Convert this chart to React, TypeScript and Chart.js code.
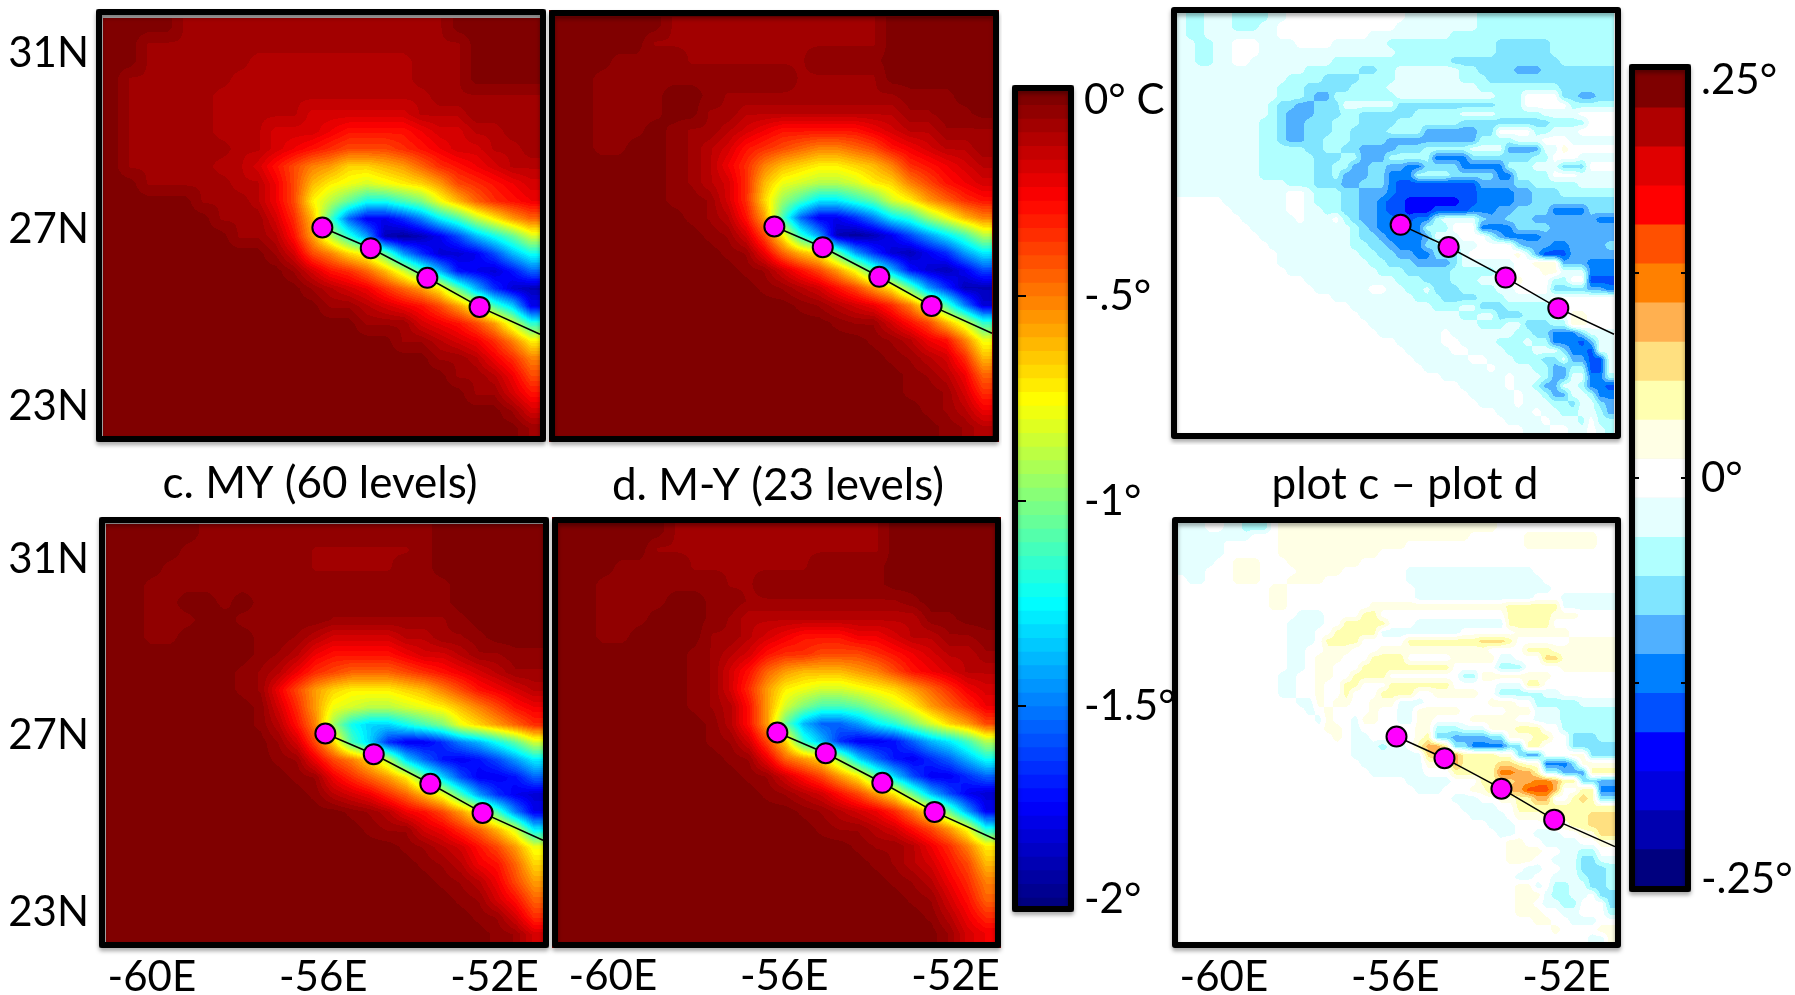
import React, { useEffect, useRef } from "react";
import { Chart, registerables } from "chart.js";

Chart.register(...registerables);

// ---------- axis labels ----------
const LON_TICKS = [-60, -56, -52];
const LAT_TICKS = [31, 27, 23];
const LON_RANGE = [-61.07, -50.87];
const LAT_RANGE = [22.3, 31.8];

// ---------- storm track (lon / lat of the four dots and the exit from the frame) ----------
const TRACK_LON = [-55.95, -54.82, -53.5, -52.28, -50.87];
const TRACK_LAT = [27.05, 26.58, 25.91, 25.25, 24.63];
const TRACK_LON_E = [-55.85, -54.73, -53.4, -52.17, -50.87];
const TRACK_LAT_E = [27.02, 26.52, 25.83, 25.14, 24.55];
const TRACK_LON_F = [-55.97, -54.85, -53.52, -52.29, -50.87];
const TRACK_LAT_F = [26.97, 26.48, 25.79, 25.09, 24.48];

// ---------- cooling, one char per cell: base-36 level, degrees C = -level/18, A = half a level.
// Rows run north to south; short rows are padded on the west with background.
const GRID_A = [
  "000011111111111111100000",
  "001111111111111111110000",
  "001111112222222221110000",
  "011111122222222221110000",
  "011111222222222222111111",
  "011111222223333332221111",
  "011111222333455554332211",
  "011111122345677765433221",
  "011111223579accba8654322",
  "00111112247bdefedca76543",
  "00000111247dgjmmkieb8654",
  "00000011136bkswwurnkgda8",
  "00000001125aglqyzywtpmjf",
  "0000000001379cejquxxwtpm",
  "13568bfkpvwxvs",
  "123468adjpuxy",
  "1123457aekow",
  "1113457afl",
  "1123469d",
  "112469",
  "11247",
  "1135",
  "13",
  "1",
];
const GRID_B = [
  "000000111111111111000000",
  "000001111111111111000000",
  "000AAAA1111111AAAA000000",
  "00AAAAAAAAAAA11111000000",
  "00AAAA00A1111111111AAA00",
  "00AAAA001122222222211AA0",
  "00AAA0A11234555554322111",
  "00AA00A12356789987543221",
  "000000A12469bcddcb965432",
  "000000A1236befggfdc97543",
  "000000AA136chknnljfda865",
  "0000000A125akswwurnlheb9",
  "00000000A137dlqyzywtqnkg",
  "A148bdjquxywuqn",
  "A1357aekpvxywt",
  "A12357adjquyy",
  "A123469ekrx",
  "A11357bfl",
  "A12459e",
  "A1236b",
  "A1248",
  "AA136",
  "A124",
  "A12",
];
const GRID_C = [
  "00000AAAAAAAAAAAAA000000",
  "0000AAAAAAA111111A000000",
  "000AAAAAAAA11111AA000000",
  "00AAAAAAAAAAAAAAAAA00000",
  "00AA00A0AAAAAAAAAAA00000",
  "00AAA00AAAAA1111111A0000",
  "00AA0000AA1233332211A000",
  "00000000A1245555433211AA",
  "0000000A1246788876543211",
  "0000000A147acdddcb975432",
  "00000000A36aefggfedb9754",
  "00000000A259hmoomkieca86",
  "000000000137ckouwwurpmjf",
  "000000000A1479cgosvwvtqn",
  "A1468adjotwwvs",
  "A23468bekquwx",
  "A12457aekrw",
  "A113468bfn",
  "A12357ae",
  "A12458c",
  "A1247a",
  "A1358",
  "A136",
  "A13",
];
const GRID_D = [
  "000000111111111111000000",
  "000001111111111111000000",
  "000AAAA1111111AAAA000000",
  "00AAAAAAA11AAAAAAA000000",
  "00AAAA00AA111111111A0000",
  "00AAA000A12222222222AA00",
  "00AA0000112345554432211A",
  "0000000A1235667776543221",
  "0000000A1358abbba9754322",
  "0000000A136adeffedca8643",
  "0000000A125afikkjhfda864",
  "00000000A25ajpssqnlifca7",
  "00000000A137clpuwwvspnkg",
  "000000000A148achosvwuspm",
  "A1357adjotwwus",
  "A12357adjptwx",
  "A123469djqw",
  "A112357aem",
  "A112469d",
  "A12357b",
  "A12469",
  "A1358",
  "A246",
  "134",
];

// ---------- difference in bands, north to south.
// Each token is a band symbol followed by the column (of 48) where that run ends.
// Symbol '.' = 0, 1..7 warm bands, a..h cold bands; one band = .5/21 degrees.
const RUNS_E = [
  "a1 b3 a6 b10 a12 .25 a33 b48",
  "a1 b3 a6 b9 a11 .24 a33 b48",
  "a1 b3 a11 .21 a30 b48",
  "a2 b4 a6 .9 a13 .17 a23 b35 c41 b48",
  "a2 b4 a6 .9 a24 b35 c41 b48",
  "a2 b4 a6 .8 a17 b30 c42 b48",
  "a14 b20 c22 b24 a31 b33 c37 d40 c48",
  "a12 b16 c20 b24 a31 b34 c48",
  "a11 b14 c19 b23 a33 b42 c48",
  "a11 b14 c15 d17 b24 a35 b38 .42 c44 d46 c48",
  "a10 b11 c13 d15 c18 a24 c35 b38 .43 b48",
  "a10 b11 c12 d15 c18 b20 c26 b31 a35 b40 a44 .48",
  "a9 b11 c12 d14 c17 b20 c24 b31 c41 b45 .48",
  "a9 b11 c12 d14 c17 b19 c23 b27 d33 c35 .39 b41 a44 .48",
  "a9 b11 c12 d14 c16 b19 c23 d33 b37 a40 .43 a48",
  "a9 b14 c16 b18 c20 d24 c27 b32 a36 d40 a42 143 .48",
  "a9 b15 c18 b20 d23 b28 e32 c39 b41 .44 a48",
  "a9 b15 c17 b19 d21 c23 d25 e27 c31 e36 b39 a42 c45 .48",
  "a9 b15 c17 b18 d21 c23 e26 b30 c35 e37 b41 .44 a48",
  "a12 b15 c18 d20 c23 e24 f33 d37 c39 b44 a48",
  "a12 .14 a15 b18 c20 d23 e24 f33 e37 d39 c42 b48",
  ".5 a12 .14 a15 b18 c20 d22 e23 f25 g31 f33 e37 d39 c48",
  ".6 a12 .14 a16 b18 c20 d22 e23 f25 g28 f32 e35 d37 c41 e45 c48",
  ".7 a13 .14 a17 .18 b19 c20 d22 e24 f26 e28 b29 a33 c34 d36 c39 d46 e48",
  ".8 a19 b20 c21 d22 e27 b30 .33 e37 c41 d48",
  ".9 a19 b20 c22 d23 e27 d28 a31 .34 b35 d36 e40 d48",
  ".10 a19 b21 c23 d24 e27 c29 b31 a33 .37 c38 d41 e43 d47 c48",
  ".11 a20 b22 c24 d26 e28 c31 a32 .37 138 a39 d40 f43 d48",
  ".11 a21 b23 c26 d30 c31 a37 .39 142 d45 e48",
  ".12 a22 b25 c30 b35 a37 .40 142 a45 e48",
  ".14 a24 b27 c30 b33 a37 138 .41 b43 .45 f48",
  ".15 a21 .23 a25 b27 a28 c31 b35 a37 .41 c45 d47 e48",
  ".17 a26 b29 c33 b36 a41 .48",
  ".19 a28 b31 a33 c36 b41 a43 .48",
  ".20 a31 b33 a35 c38 b41 a43 145 .48",
  ".21 a33 b36 a38 c41 b43 145 .48",
  ".22 a29 .30 a37 b39 c41 e44 c45 a48",
  ".24 a29 .31 a35 b38 a39 b41 e44 f45 d46 a48",
  ".25 a30 .32 a36 b39 a42 c43 e45 f46 a48",
  ".26 a32 .34 a37 b40 c42 a43 d45 f47 a48",
  ".27 a34 .35 a39 b41 d43 b45 f47 a48",
  ".29 a36 .37 a40 b41 d43 a45 e47 b48",
  ".31 a36 .37 a39 b40 d42 a44 b45 e47 f48",
  ".32 a37 .38 a40 b41 d43 a45 b46 e48",
  ".33 a37 .38 a41 b43 c44 a46 c47 d48",
  ".35 a39 .40 a42 b44 a46 b47 d48",
  ".36 a40 .41 a44 b45 .46 b48",
  ".38 a41 .43 a45 .46 a47 b48",
];
const RUNS_F = [
  "a3 .5 a7 b10 .11 135 .48",
  "a5 a8 .11 132 .38 146 .48",
  "a5 .11 125 .38 146 .48",
  "a5 .11 122 .48",
  "a4 .6 19 .12 120 .48",
  "a3 .6 19 .13 118 .25 a39 .48",
  ".1 a3 .6 19 .12 116 .25 a40 .48",
  ".10 112 .26 a41 .48",
  ".10 112 .26 a39 .42 a48",
  ".10 112 .21 136 242 a48",
  ".13 a16 .20 222 .36 241 144 .48",
  ".12 a16 .18 223 .26 a36 241 .48",
  ".12 a15 .17 222 a31 .37 143 .48",
  ".12 a15 .16 220 .25 233 336 237 .43 148",
  ".12 a14 .16 119 .22 134 .38 241 148",
  ".12 a14 .15 118 .21 225 .30 135 a37 .40 342 148",
  ".12 a14 .15 117 .20 230 .35 b38 .42 148",
  ".11 a13 .15 117 .19 223 .31 b33 141 .48",
  ".11 a13 .15 116 .18 220 .23 230 .35 a38 240 .48",
  ".11 a13 .15 116 .18 219 .22 226 .28 133 .35 b40 a42 .48",
  ".13 a15 116 .17 119 .21 124 a27 .34 137 .39 b44 a48",
  ".14 a15 .16 117 .21 122 .24 a26 131 .36 139 a42 b48",
  ".15 a16 117 .19 a20 122 .24 a26 128 .32 137 .39 a42 b48",
  ".16 118 .19 a20 .26 128 b31 a34 137 240 .42 b48",
  ".17 118 .19 a21 .26 127 228 c30 d34 c36 139 241 .43 c46 b48",
  ".19 a22 b23 a25 .26 227 429 230 c32 e36 c38 240 .43 c48",
  ".19 a27 328 431 235 137 c38 d40 .43 145 c48",
  ".20 a27 130 431 235 337 238 140 e43 c44 148",
  ".21 a27 .30 235 537 439 240 b42 d45 248",
  ".25 a30 .33 235 337 439 541 442 244 c46 d48",
  ".26 a29 .32 134 336 438 641 442 .44 246 e48",
  ".30 a33 .35 137 239 441 .43 244 345 246 c48",
  ".31 a35 .37 248",
  ".32 a36 .37 140 245 348",
  ".34 a37 .41 143 245 348",
  ".35 a37 .39 a42 .44 146 348",
  ".36 138 .40 a44 .46 148",
  ".36 140 .42 a44 b46 .48",
  ".36 139 .41 a44 c46 a48",
  ".38 a40 .42 a44 c47 b48",
  ".37 a39 .41 a44 b45 c47 b48",
  ".37 139 a40 .41 b43 a45 c47 b48",
  ".37 140 a41 b43 a45 .46 c48",
  ".37 139 .40 a42 b44 .47 c48",
  ".37 140 .42 a44 .47 b48",
  ".39 141 .43 a46 .48",
  ".41 142 .46 148",
  ".45 a47 148",
];

// ---------- colour bars ----------
const COOL_LABELS = ["0° C", "-.5°", "-1°", "-1.5°", "-2°"];
const COOL_LABEL_AT = [-0.024, -0.5, -1, -1.5, -1.973];
const COOL_MARKS = [-0.5, -1, -1.5];
const COOL_RANGE = [-2, 0];
const COOL_STEPS = 60;
const DIFF_LABELS = [".25°", "0°", "-.25°"];
const DIFF_LABEL_AT = [0.2427, 0, -0.245];
const DIFF_MARKS = [0.125, 0, -0.125];
const DIFF_RANGE = [-0.25, 0.25];
const DIFF_COLORS = [
  "#7f0000", "#b00000", "#e00000", "#ff0000", "#ff5000", "#ff8000", "#ffb050",
  "#ffe080", "#ffffb0", "#ffffe5", "#ffffff", "#e5ffff", "#b0ffff", "#80e5ff",
  "#50b0ff", "#0080ff", "#0050ff", "#0000ff", "#0000e0", "#0000b0", "#00007f",
];

const TITLE_C = "c. MY (60 levels)";
const TITLE_D = "d. M-Y (23 levels)";
const TITLE_F = "plot c – plot d";

// ---------- drawing helpers ----------
const FONT_FAMILY = "Lato, 'Open Sans', sans-serif";
const FONT = { family: FONT_FAMILY, size: 42, weight: "400" as const, lineHeight: 1 };
const TITLE_FONT = { family: FONT_FAMILY, size: 44, weight: "400" as const, lineHeight: 1 };

const clamp01 = (v: number) => Math.max(0, Math.min(1, v));
function jet(x: number): [number, number, number] {
  return [
    255 * clamp01(1.5 - Math.abs(4 * x - 3)),
    255 * clamp01(1.5 - Math.abs(4 * x - 2)),
    255 * clamp01(1.5 - Math.abs(4 * x - 1)),
  ];
}
function hexRgb(h: string): [number, number, number] {
  return [parseInt(h.slice(1, 3), 16), parseInt(h.slice(3, 5), 16), parseInt(h.slice(5, 7), 16)];
}
const rgbStr = (c: number[]) => `rgb(${c.map(Math.round).join(",")})`;
const DIFF_RGB = DIFF_COLORS.map(hexRgb);

function decodeCool(rows: string[]): number[][] {
  return rows.map((r) =>
    r.padStart(24, "0").split("").map((c) => (c === "A" ? 0.5 : parseInt(c, 36)))
  );
}
function bandOf(c: string): number {
  if (c === ".") return 0;
  if (c >= "1" && c <= "9") return Number(c);
  return -(c.charCodeAt(0) - 96);
}
function decodeRuns(rows: string[]): number[][] {
  return rows.map((r) => {
    const out: number[] = new Array(48).fill(0);
    let from = 0;
    for (const tok of r.split(" ")) {
      const end = Number(tok.slice(1));
      for (let i = from; i < end && i < 48; i++) out[i] = bandOf(tok[0]);
      from = Math.max(from, end);
    }
    return out;
  });
}
function coolRgb(level: number): [number, number, number] {
  const q = Math.round((clamp01(level / 36) * (COOL_STEPS - 1))) / (COOL_STEPS - 1);
  return jet(1 - q);
}
function diffRgb(band: number): [number, number, number] {
  const i = 10 - Math.round(band);
  return DIFF_RGB[Math.max(0, Math.min(20, i))];
}

function sample(g: number[][], fx: number, fy: number): number {
  const rows = g.length;
  const cols = g[0].length;
  const x = Math.max(0, Math.min(cols - 1.001, fx * cols - 0.5));
  const y = Math.max(0, Math.min(rows - 1.001, fy * rows - 0.5));
  const i = Math.floor(x);
  const j = Math.floor(y);
  const u = x - i;
  const v = y - j;
  return (
    g[j][i] * (1 - u) * (1 - v) +
    g[j][i + 1] * u * (1 - v) +
    g[j + 1][i] * (1 - u) * v +
    g[j + 1][i + 1] * u * v
  );
}

const flatten = (s: any) => {
  s.paddingTop = 0;
  s.paddingBottom = 0;
  s.paddingLeft = 0;
  s.paddingRight = 0;
};

type Rect = [number, number, number, number];
function framePlugin(x0: number, y0: number, frame: Rect, lw: number, fill: string | null) {
  return {
    id: "frame",
    afterDatasetsDraw(chart: any) {
      const c = chart.ctx;
      c.save();
      const fx0 = frame[0] - x0 + lw / 2;
      const fy0 = frame[1] - y0 + lw / 2;
      const fw = frame[2] - frame[0] - lw;
      const fh = frame[3] - frame[1] - lw;
      c.lineJoin = "round";
      c.strokeStyle = "#000";
      c.lineWidth = lw;
      c.shadowColor = "rgba(0,0,0,0.35)";
      c.shadowBlur = 4;
      c.shadowOffsetY = 3;
      c.strokeRect(fx0, fy0, fw, fh);
      c.restore();
    },
    beforeDatasetsDraw(chart: any) {
      if (!fill) return;
      const c = chart.ctx;
      c.save();
      c.fillStyle = fill;
      c.fillRect(frame[0] - x0, frame[1] - y0, frame[2] - frame[0], frame[3] - frame[1]);
      c.restore();
    },
  };
}

function heatPlugin(grid: number[][], colour: (v: number) => [number, number, number]) {
  return {
    id: "heat",
    beforeDatasetsDraw(chart: any) {
      const { left, top, right, bottom } = chart.chartArea;
      const xs = chart.scales.x;
      const ys = chart.scales.y;
      const w = Math.round(right - left);
      const h = Math.round(bottom - top);
      const img = chart.ctx.createImageData(w, h);
      const [lo0, lo1] = LON_RANGE;
      const [la0, la1] = LAT_RANGE;
      for (let py = 0; py < h; py++) {
        const lat = ys.getValueForPixel(top + py + 0.5);
        const fy = (la1 - lat) / (la1 - la0);
        for (let px = 0; px < w; px++) {
          const lon = xs.getValueForPixel(left + px + 0.5);
          const fx = (lon - lo0) / (lo1 - lo0);
          const rgb = colour(sample(grid, fx, fy));
          const k = (py * w + px) * 4;
          img.data[k] = rgb[0];
          img.data[k + 1] = rgb[1];
          img.data[k + 2] = rgb[2];
          img.data[k + 3] = 255;
        }
      }
      chart.ctx.putImageData(img, Math.round(left), Math.round(top));
    },
  };
}

function titleShift(desiredPageX: number, x0: number) {
  return {
    id: "titleShift",
    afterLayout(chart: any) {
      const t = chart.titleBlock;
      if (!t) return;
      const dx = desiredPageX - x0 - (t.left + t.right) / 2;
      t.left += dx;
      t.right += dx;
    },
  };
}

// Pins the plot rectangle to the panel's measured place after Chart.js has laid it out.
function pinArea(x0: number, y0: number, area: Rect) {
  const [L, T, R, B] = area;
  return {
    id: "pinArea",
    afterLayout(chart: any) {
      const a = chart.chartArea;
      a.left = L - x0;
      a.right = R - x0;
      a.top = T - y0;
      a.bottom = B - y0;
      a.width = R - L;
      a.height = B - T;
      const xs = chart.scales.x;
      xs.left = L - x0;
      xs.right = R - x0;
      xs.width = R - L;
      xs.configure();
      const ys = chart.scales.y;
      ys.top = T - y0;
      ys.bottom = B - y0;
      ys.height = B - T;
      ys.right = L - x0;
      ys.configure();
    },
  };
}

interface PanelSpec {
  box: Rect; // canvas x0,y0,w,h on the page
  area: Rect; // plot L,T,R,B on the page
  frame: Rect;
  grid: number[][];
  colour: (v: number) => [number, number, number];
  lon: number[];
  lat: number[];
  back: string;
  showLat?: boolean;
  showLon?: boolean;
  lonOffset?: number;
  title?: string;
  titleX?: number;
  titleGap?: number;
}

function panelConfig(p: PanelSpec): any {
  const [x0, y0, W, H] = p.box;
  const [L, T, R, B] = p.area;
  const titleH = p.title ? 44 + (p.titleGap as number) : 0;
  const axisW = p.showLat ? L - x0 : 0;
  const axisH = p.showLon ? y0 + H - B : 0;
  const plugins: any[] = [
    pinArea(x0, y0, p.area),
    framePlugin(x0, y0, p.frame, 6, p.back),
    heatPlugin(p.grid, p.colour),
  ];
  if (p.title) plugins.unshift(titleShift(p.titleX as number, x0));
  return {
    type: "scatter",
    data: {
      datasets: [
        {
          data: p.lon.map((x, i) => ({ x, y: p.lat[i] })),
          showLine: true,
          borderColor: "#000",
          borderWidth: 1.5,
          pointRadius: [10, 10, 10, 10, 0],
          pointBackgroundColor: "#ff00ff",
          pointBorderColor: "#000",
          pointBorderWidth: 2,
          clip: false,
        },
      ],
    },
    options: {
      responsive: false,
      animation: false,
      layout: {
        padding: {
          left: L - x0 - axisW,
          top: T - y0 - titleH,
          right: x0 + W - R,
          bottom: y0 + H - B - axisH,
        },
      },
      plugins: {
        legend: { display: false },
        tooltip: { enabled: false },
        title: p.title
          ? {
              display: true,
              text: p.title,
              color: "#000",
              font: TITLE_FONT,
              padding: { top: 0, bottom: p.titleGap },
            }
          : { display: false },
      },
      scales: {
        x: {
          type: "linear",
          min: LON_RANGE[0],
          max: LON_RANGE[1],
          display: !!(p.showLon || p.showLat),
          grid: { display: false, drawTicks: false },
          border: { display: false },
          afterBuildTicks: (s: any) => {
            s.ticks = LON_TICKS.map((value) => ({ value }));
          },
          afterFit: (s: any) => {
            flatten(s);
            s.height = axisH;
          },
          ticks: {
            display: !!p.showLon,
            color: "#000",
            font: FONT,
            padding: 13,
            autoSkip: false,
            maxRotation: 0,
            minRotation: 0,
            labelOffset: p.lonOffset || 0,
            callback: (v: number) => `${v}E`,
          },
        },
        y: {
          type: "linear",
          min: LAT_RANGE[0],
          max: LAT_RANGE[1],
          display: !!p.showLat,
          grid: { display: false, drawTicks: false },
          border: { display: false },
          afterBuildTicks: (s: any) => {
            s.ticks = LAT_TICKS.map((value) => ({ value }));
          },
          afterFit: (s: any) => {
            flatten(s);
            if (p.showLat) s.width = axisW;
          },
          ticks: {
            color: "#000",
            font: FONT,
            padding: L - 89,
            autoSkip: false,
            callback: (v: number) => `${v}N`,
          },
        },
      },
    },
    plugins,
  };
}

interface BarSpec {
  box: Rect;
  area: Rect;
  frame: Rect;
  range: number[];
  bands: { lo: number; hi: number; color: string }[];
  labels: string[];
  labelAt: number[];
  marks: number[];
  markBothSides: boolean;
  pad: number;
}

function barConfig(b: BarSpec): any {
  const [x0, y0, W, H] = b.box;
  const [L, T, R, B] = b.area;
  const axisW = x0 + W - R;
  const markPlugin = {
    id: "marks",
    afterDatasetsDraw(chart: any) {
      const c = chart.ctx;
      const s = chart.scales.y;
      c.save();
      c.fillStyle = "#000";
      for (const m of b.marks) {
        const y = s.getPixelForValue(m);
        c.fillRect(L - x0, y - 1, b.markBothSides ? 4 : 8, 2);
        if (b.markBothSides) c.fillRect(R - x0 - 4, y - 1, 4, 2);
      }
      c.restore();
    },
  };
  return {
    type: "bar",
    data: {
      labels: ["bar"],
      datasets: b.bands.map((d) => ({
        data: [[d.lo, d.hi]],
        backgroundColor: d.color,
        borderWidth: 0,
        grouped: false,
        barPercentage: 1,
        categoryPercentage: 1,
      })),
    },
    options: {
      responsive: false,
      animation: false,
      layout: {
        padding: { left: L - x0, top: T - y0, right: 0, bottom: y0 + H - B },
      },
      plugins: { legend: { display: false }, tooltip: { enabled: false }, title: { display: false } },
      scales: {
        x: { display: false },
        y: {
          type: "linear",
          position: "right",
          min: b.range[0],
          max: b.range[1],
          grid: { display: false, drawTicks: false },
          border: { display: false },
          afterBuildTicks: (s: any) => {
            s.ticks = b.labelAt.map((value) => ({ value }));
          },
          afterFit: (s: any) => {
            flatten(s);
            s.width = axisW;
          },
          ticks: {
            color: "#000",
            font: FONT,
            padding: b.pad,
            autoSkip: false,
            callback: (_v: number, i: number) => b.labels[i],
          },
        },
      },
    },
    plugins: [framePlugin(x0, y0, b.frame, 6, "#bbbbbb"), markPlugin],
  };
}

const coolBands = Array.from({ length: COOL_STEPS }, (_, i) => {
  const span = (COOL_RANGE[1] - COOL_RANGE[0]) / COOL_STEPS;
  const hi = COOL_RANGE[1] - i * span;
  return { lo: hi - span, hi, color: rgbStr(jet(1 - i / (COOL_STEPS - 1))) };
});
const diffBands = DIFF_COLORS.map((color, i) => {
  const span = (DIFF_RANGE[1] - DIFF_RANGE[0]) / DIFF_COLORS.length;
  const hi = DIFF_RANGE[1] - i * span;
  return { lo: hi - span, hi, color };
});

const PANELS: PanelSpec[] = [
  { box: [0, 0, 548, 450], area: [103, 18, 540, 437], frame: [96, 9, 546, 442], grid: decodeCool(GRID_A), colour: coolRgb, lon: TRACK_LON, lat: TRACK_LAT, back: "#b8b8b8", showLat: true },
  { box: [547, 0, 455, 450], area: [555, 17, 992, 436], frame: [549, 10, 999, 442], grid: decodeCool(GRID_B), colour: coolRgb, lon: TRACK_LON, lat: TRACK_LAT, back: "#8a0000" },
  { box: [0, 462, 560, 533], area: [106, 524, 543, 943], frame: [99, 517, 549, 948], grid: decodeCool(GRID_C), colour: coolRgb, lon: TRACK_LON, lat: TRACK_LAT, back: "#b8b8b8", showLat: true, showLon: true, title: TITLE_C, titleX: 320, titleGap: 18 },
  { box: [545, 464, 460, 531], area: [558, 523, 995, 942], frame: [552, 517, 1001, 948], grid: decodeCool(GRID_D), colour: coolRgb, lon: TRACK_LON, lat: TRACK_LAT, back: "#8a0000", showLon: true, lonOffset: 9, title: TITLE_D, titleX: 778, titleGap: 15 },
  { box: [1165, 0, 462, 445], area: [1177, 13, 1614, 434], frame: [1171, 7, 1621, 439], grid: decodeRuns(RUNS_E), colour: diffRgb, lon: TRACK_LON_E, lat: TRACK_LAT_E, back: "#ffffff" },
  { box: [1165, 463, 462, 532], area: [1178, 523, 1615, 943], frame: [1172, 517, 1621, 948], grid: decodeRuns(RUNS_F), colour: diffRgb, lon: TRACK_LON_F, lat: TRACK_LAT_F, back: "#ffffff", showLon: true, title: TITLE_F, titleX: 1405, titleGap: 16 },
];

const BARS: BarSpec[] = [
  { box: [1005, 70, 170, 860], area: [1018, 91, 1068, 911], frame: [1012, 85, 1074, 912], range: COOL_RANGE, bands: coolBands, labels: COOL_LABELS, labelAt: COOL_LABEL_AT, marks: COOL_MARKS, markBothSides: false, pad: 16 },
  { box: [1622, 50, 173, 860], area: [1635, 68, 1685, 888], frame: [1629, 64, 1691, 892], range: DIFF_RANGE, bands: diffBands, labels: DIFF_LABELS, labelAt: DIFF_LABEL_AT, marks: DIFF_MARKS, markBothSides: true, pad: 16 },
];

export default function App() {
  const refs = useRef<(HTMLCanvasElement | null)[]>([]);
  useEffect(() => {
    const configs = [...PANELS.map(panelConfig), ...BARS.map(barConfig)];
    const charts = configs.map((cfg, i) => new Chart(refs.current[i] as HTMLCanvasElement, cfg));
    return () => charts.forEach((c) => c.destroy());
  }, []);
  const boxes = [...PANELS.map((p) => p.box), ...BARS.map((b) => b.box)];
  return (
    <div style={{ position: "absolute", left: 0, top: 0, width: 1795, height: 995, overflow: "hidden", background: "#fff" }}>
      {boxes.map((b, i) => (
        <canvas
          key={i}
          ref={(el) => {
            refs.current[i] = el;
          }}
          width={b[2]}
          height={b[3]}
          style={{ position: "absolute", left: b[0], top: b[1], width: b[2], height: b[3] }}
        />
      ))}
    </div>
  );
}
